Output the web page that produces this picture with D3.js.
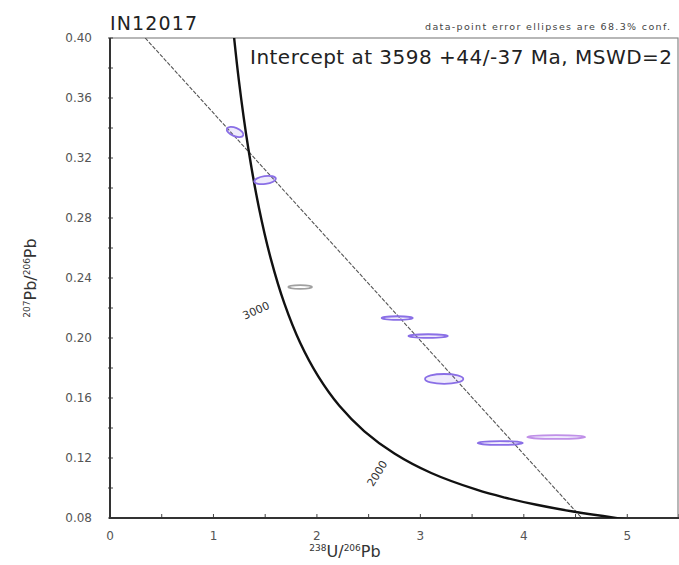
<!DOCTYPE html>
<html lang="en">
<head>
<meta charset="UTF-8">
<title>IN12017</title>
<style>
  body { margin: 0; background: #fff; }
  text { font-family: "DejaVu Sans", Verdana, sans-serif; }
</style>
</head>
<body>
<div id="chart"></div>
<script src="https://d3js.org/d3.v7.min.js"></script>
<script>
// tick values
const xTicks = [0, 1, 2, 3, 4, 5];
const yTicks = [0.08, 0.12, 0.16, 0.20, 0.24, 0.28, 0.32, 0.36, 0.40];

// concordia points (238U/206Pb, 207Pb/206Pb) at these ages, Ma
const concAges = [1150, 1200, 1300, 1400, 1500, 1600, 1800, 2000, 2200, 2400, 2600, 2800, 3000, 3200, 3400, 3600, 3800, 4000];
const concX = [5.120, 4.888, 4.476, 4.123, 3.817, 3.550, 3.105, 2.749, 2.459, 2.217, 2.013, 1.838, 1.687, 1.556, 1.440, 1.337, 1.245, 1.163];
const concY = [0.0781, 0.0801, 0.0843, 0.0888, 0.0936, 0.0987, 0.1100, 0.1230, 0.1378, 0.1548, 0.1744, 0.1968, 0.2227, 0.2524, 0.2867, 0.3263, 0.3721, 0.4250];

// discordia end points
const discX = [0.34, 4.56];
const discY = [0.40, 0.08];

// spots: centre and half-widths of the error ellipses
const spotX = [1.209, 1.499, 1.838, 2.776, 3.075, 3.230, 3.772, 4.313];
const spotY = [0.3373, 0.3053, 0.2340, 0.2133, 0.2013, 0.1727, 0.1300, 0.1340];
const spotSx = [0.085, 0.105, 0.115, 0.150, 0.190, 0.185, 0.218, 0.280];
const spotSy = [0.0028, 0.0026, 0.0012, 0.0012, 0.0012, 0.0033, 0.0013, 0.0013];
const spotTilt = [22, -8, 0, 0, 0, 0, 0, 0];
const spotUsed = [true, true, false, true, true, true, true, true];

const w = 679, h = 565;
const padL = 110, padR = 679, padT = 38, padB = 518;

const svg = d3.select("#chart").append("svg")
  .attr("width", w)
  .attr("height", h);

const x = d3.scaleLinear().domain([0, 5.5]).range([padL, padR]);
const y = d3.scaleLinear().domain([0.08, 0.40]).range([padB, padT]);

svg.append("clipPath").attr("id", "plot")
  .append("rect")
  .attr("x", padL).attr("y", padT)
  .attr("width", padR - padL).attr("height", padB - padT);

// frame
svg.append("rect")
  .attr("x", padL).attr("y", padT)
  .attr("width", padR - padL - 1).attr("height", padB - padT)
  .attr("fill", "none")
  .attr("stroke", "#888")
  .attr("stroke-width", 1.2);

// minor + major ticks
const xMinor = d3.range(0, 5.51, 0.5);
const yMinor = d3.range(0.08, 0.401, 0.02);

svg.append("g").selectAll("line")
  .data(xMinor)
  .join("line")
  .attr("x1", d => x(d)).attr("x2", d => x(d))
  .attr("y1", padB).attr("y2", padB - 4)
  .attr("stroke", "#444");

svg.append("g").selectAll("line")
  .data(yMinor)
  .join("line")
  .attr("x1", padL - 2).attr("x2", padL + 3)
  .attr("y1", d => y(d)).attr("y2", d => y(d))
  .attr("stroke", "#444");

// axis lines
svg.append("line")
  .attr("x1", padL).attr("x2", padL)
  .attr("y1", padT).attr("y2", padB + 1)
  .attr("stroke", "#333").attr("stroke-width", 2);
svg.append("line")
  .attr("x1", padL - 1).attr("x2", padR)
  .attr("y1", padB).attr("y2", padB)
  .attr("stroke", "#333").attr("stroke-width", 2);

// tick labels
svg.append("g").selectAll("text")
  .data(xTicks)
  .join("text")
  .attr("x", d => x(d))
  .attr("y", 540)
  .attr("text-anchor", "middle")
  .attr("font-size", 12)
  .attr("fill", "#555")
  .text(d => d);

svg.append("g").selectAll("text")
  .data(yTicks)
  .join("text")
  .attr("x", 92)
  .attr("y", d => y(d) + 4)
  .attr("text-anchor", "end")
  .attr("font-size", 12)
  .attr("fill", "#555")
  .text(d => d.toFixed(2));

// axis titles
const xt = svg.append("text")
  .attr("x", 345).attr("y", 557)
  .attr("text-anchor", "middle")
  .attr("font-size", 16)
  .attr("fill", "#333");
xt.append("tspan").attr("font-size", 9).attr("dy", -6).text("238");
xt.append("tspan").attr("dy", 6).text("U/");
xt.append("tspan").attr("font-size", 9).attr("dy", -6).text("206");
xt.append("tspan").attr("dy", 6).text("Pb");

const yt = svg.append("text")
  .attr("transform", "translate(36," + 278 + ") rotate(-90)")
  .attr("text-anchor", "middle")
  .attr("font-size", 16)
  .attr("fill", "#333");
yt.append("tspan").attr("font-size", 9).attr("dy", -6).text("207");
yt.append("tspan").attr("dy", 6).text("Pb/");
yt.append("tspan").attr("font-size", 9).attr("dy", -6).text("206");
yt.append("tspan").attr("dy", 6).text("Pb");

const plot = svg.append("g").attr("clip-path", "url(#plot)");

// discordia
plot.append("line")
  .attr("x1", x(discX[0])).attr("y1", y(discY[0]))
  .attr("x2", x(discX[1])).attr("y2", y(discY[1]))
  .attr("stroke", "#555")
  .attr("stroke-width", 1.1)
  .attr("stroke-dasharray", "4,1.5");

// concordia
const conc = concX.map((d, i) => [d, concY[i]]);
plot.append("path")
  .datum(conc)
  .attr("d", d3.line().x(d => x(d[0])).y(d => y(d[1])).curve(d3.curveCatmullRom))
  .attr("fill", "none")
  .attr("stroke", "#111")
  .attr("stroke-width", 2.4);

// age labels on concordia
const ageLabels = [
  { age: 3000, dx: -27, dy: 10, rot: -24 },
  { age: 2000, dx: -14, dy: 22, rot: -58 }
];
ageLabels.forEach(a => {
  const i = concAges.indexOf(a.age);
  const px = x(concX[i]) + a.dx, py = y(concY[i]) + a.dy;
  svg.append("text")
    .attr("transform", "translate(" + px + "," + py + ") rotate(" + a.rot + ")")
    .attr("text-anchor", "middle")
    .attr("font-size", 11)
    .attr("fill", "#333")
    .text(a.age);
});

// error ellipses
plot.selectAll("ellipse")
  .data(spotX.map((d, i) => i))
  .join("ellipse")
  .attr("transform", i => "translate(" + x(spotX[i]) + "," + y(spotY[i]) + ") rotate(" + spotTilt[i] + ")")
  .attr("rx", i => x(spotSx[i]) - x(0))
  .attr("ry", i => Math.max(1, y(0.08) - y(0.08 + spotSy[i])))
  .attr("fill", i => spotUsed[i] ? "rgba(150,120,235,0.15)" : "none")
  .attr("stroke", i => spotUsed[i] ? (i === 7 ? "#c090e8" : "#8a6fe6") : "#a0a0a0")
  .attr("stroke-width", 1.8);

// texts
svg.append("text")
  .attr("x", 110).attr("y", 30)
  .attr("font-size", 19)
  .attr("textLength", 87)
  .attr("fill", "#222")
  .text("IN12017");

svg.append("text")
  .attr("x", 425).attr("y", 30)
  .attr("font-size", 9.5)
  .attr("textLength", 245)
  .attr("fill", "#444")
  .text("data-point error ellipses are 68.3% conf.");

svg.append("text")
  .attr("x", 250).attr("y", 64)
  .attr("font-size", 20)
  .attr("textLength", 422)
  .attr("fill", "#222")
  .text("Intercept at 3598 +44/-37 Ma, MSWD=2");
</script>
</body>
</html>
